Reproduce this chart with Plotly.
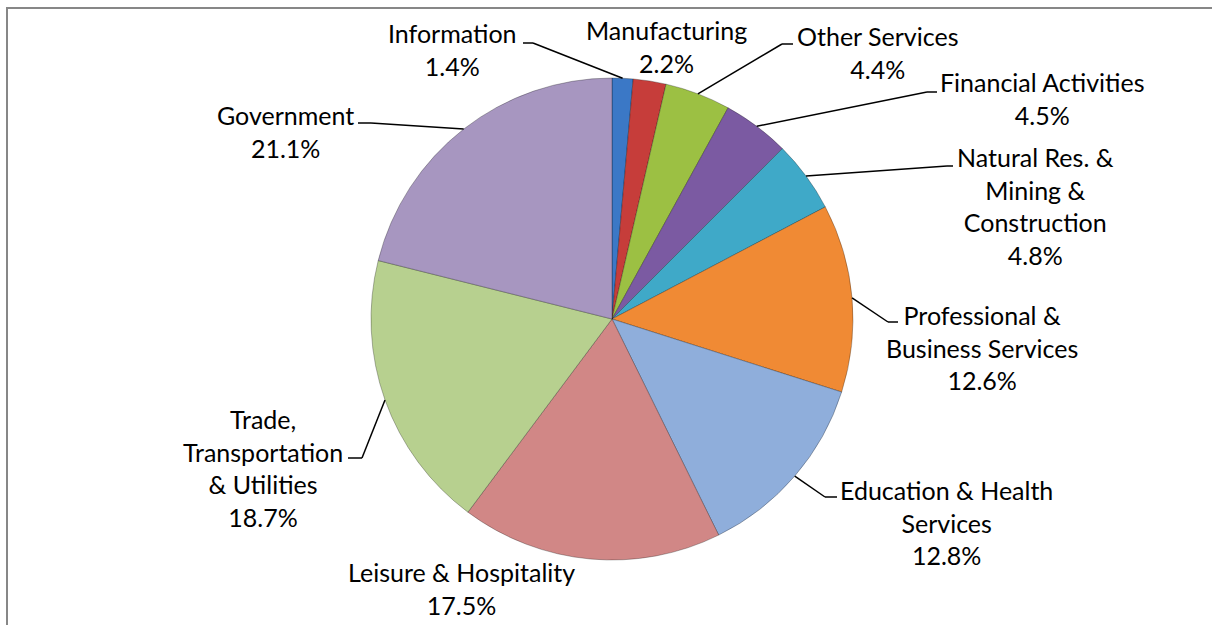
import math
import plotly.graph_objects as go

# ---- data ----
categories = ["Information", "Manufacturing", "Other Services", "Financial Activities",
              "Natural Res. & Mining & Construction", "Professional & Business Services",
              "Education & Health Services", "Leisure & Hospitality",
              "Trade, Transportation & Utilities", "Government"]
shares = [1.4, 2.2, 4.4, 4.5, 4.8, 12.6, 12.8, 17.5, 18.7, 21.1]
label_text = ["Information", "Manufacturing", "Other Services", "Financial Activities",
              "Natural Res. &<br>Mining &<br>Construction", "Professional &<br>Business Services",
              "Education & Health<br>Services", "Leisure & Hospitality",
              "Trade,<br>Transportation<br>& Utilities", "Government"]

# ---- styling / layout ----
colors = ["#3B78C6", "#C63D3A", "#9CC043", "#7B5AA2", "#3FA9C8", "#F08A34",
          "#8FAEDB", "#D18786", "#B7D08F", "#A796C0"]
W, H = 1212, 625
CX, CY, R = 612, 319, 241
# label block centre (px) for each slice
label_pos = [(452, 50), (666, 46), (877, 53), (1042, 99), (1035, 206), (982, 347),
             (946, 522), (461, 588), (263, 468), (285, 131)]
# leader elbow (x, y) and horizontal end x (px), None = no leader
leaders = [(533, 43, 523), None, (782, 44, 793), (927, 92, 937), (947, 166, 953),
           (888, 322, 898), (825, 497, 837), None, (362, 458, 348), (371, 123, 358)]

def px(x):
    return x / W

def py(y):
    return 1 - y / H

fig = go.Figure(go.Pie(
    labels=categories, values=shares, sort=False, direction="clockwise", rotation=0,
    marker=dict(colors=colors, line=dict(color="rgba(0,0,0,0.28)", width=1)),
    textinfo="none", hoverinfo="label+percent", showlegend=False,
    domain=dict(x=[px(CX - R), px(CX + R)], y=[py(CY + R), py(CY - R)]),
))

total = sum(shares)
shapes = []
annotations = []
cum = 0.0
for i, v in enumerate(shares):
    mid = (cum + v / 2) / total * 2 * math.pi
    cum += v
    ax = CX + R * math.sin(mid)
    ay = CY - R * math.cos(mid)
    lx, ly = label_pos[i]
    annotations.append(dict(
        x=px(lx), y=py(ly), xref="paper", yref="paper", showarrow=False,
        text=f"{label_text[i]}<br>{v:.1f}%", xanchor="center", yanchor="middle",
        align="center", font=dict(family="Lato", size=25, color="#000000"),
    ))
    if leaders[i] is not None:
        ex, ey, hx = leaders[i]
        for (x0, y0, x1, y1) in [(ax, ay, ex, ey), (ex, ey, hx, ey)]:
            shapes.append(dict(type="line", xref="paper", yref="paper",
                               x0=px(x0), y0=py(y0), x1=px(x1), y1=py(y1),
                               line=dict(color="#000000", width=1.5)))

# outer chart border (top and left visible)
shapes.append(dict(type="rect", xref="paper", yref="paper",
                   x0=px(7), y0=-0.02, x1=1.02, y1=py(8),
                   line=dict(color="#878787", width=2), layer="below"))

fig.update_layout(
    width=W, height=H, margin=dict(l=0, r=0, t=0, b=0),
    paper_bgcolor="white", plot_bgcolor="white",
    shapes=shapes, annotations=annotations,
)
fig.write_html("out.html", config={"displayModeBar": False},
               post_script="document.body.style.margin='0';document.body.style.overflow='hidden';")
